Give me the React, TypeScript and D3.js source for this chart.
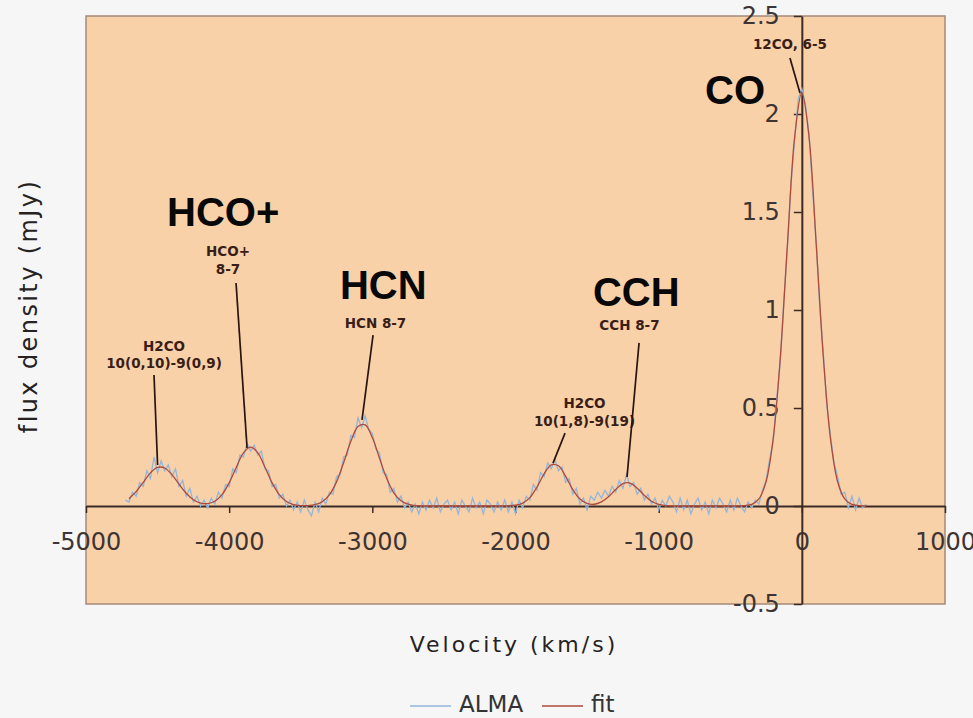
import React, { useEffect, useRef } from 'react';
import * as d3 from 'd3';

const WIDTH = 973;
const HEIGHT = 718;

// tick values of both axes
const VELOCITY_TICKS = [-5000, -4000, -3000, -2000, -1000, 0, 1000];
const FLUX_TICKS = [-0.5, 0, 0.5, 1, 1.5, 2, 2.5];

// ALMA spectrum (km/s, mJy)
const ALMA_VELOCITY = [
  -4725, -4700, -4675, -4650, -4625, -4600, -4575, -4550, -4525, -4500,
  -4475, -4450, -4425, -4400, -4375, -4350, -4325, -4300, -4275, -4250,
  -4225, -4200, -4175, -4150, -4125, -4100, -4075, -4050, -4025, -4000,
  -3975, -3950, -3925, -3900, -3875, -3850, -3825, -3800, -3775, -3750,
  -3725, -3700, -3675, -3650, -3625, -3600, -3575, -3550, -3525, -3500,
  -3475, -3450, -3425, -3400, -3375, -3350, -3325, -3300, -3275, -3250,
  -3225, -3200, -3175, -3150, -3125, -3100, -3075, -3050, -3025, -3000,
  -2975, -2950, -2925, -2900, -2875, -2850, -2825, -2800, -2775, -2750,
  -2725, -2700, -2675, -2650, -2625, -2600, -2575, -2550, -2525, -2500,
  -2475, -2450, -2425, -2400, -2375, -2350, -2325, -2300, -2275, -2250,
  -2225, -2200, -2175, -2150, -2125, -2100, -2075, -2050, -2025, -2000,
  -1975, -1950, -1925, -1900, -1875, -1850, -1825, -1800, -1775, -1750,
  -1725, -1700, -1675, -1650, -1625, -1600, -1575, -1550, -1525, -1500,
  -1475, -1450, -1425, -1400, -1375, -1350, -1325, -1300, -1275, -1250,
  -1225, -1200, -1175, -1150, -1125, -1100, -1075, -1050, -1025, -1000,
  -975, -950, -925, -900, -875, -850, -825, -800, -775, -750,
  -725, -700, -675, -650, -625, -600, -575, -550, -525, -500,
  -475, -450, -425, -400, -375, -350, -325, -300, -275, -250,
  -225, -200, -175, -150, -125, -100, -75, -50, -25, 0,
  25, 50, 75, 100, 125, 150, 175, 200, 225, 250,
  275, 300, 325, 350, 375, 400, 425, 450
];

const ALMA_FLUX = [
  0.03, 0.02, 0.07, 0.05, 0.12, 0.10, 0.18, 0.14, 0.25, 0.17,
  0.23, 0.18, 0.21, 0.15, 0.19, 0.10, 0.13, 0.05, 0.09, 0.02,
  0.05, 0.00, 0.03, -0.01, 0.04, 0.01, 0.07, 0.04, 0.11, 0.10,
  0.19, 0.17, 0.26, 0.25, 0.32, 0.28, 0.31, 0.26, 0.28, 0.19,
  0.18, 0.10, 0.11, 0.04, 0.06, 0.00, 0.03, -0.02, 0.02, -0.03,
  0.03, -0.02, -0.05, 0.02, -0.03, 0.04, 0.01, 0.07, 0.06, 0.15,
  0.16, 0.25, 0.26, 0.36, 0.35, 0.45, 0.40, 0.46, 0.39, 0.37,
  0.29, 0.27, 0.17, 0.16, 0.07, 0.09, 0.02, 0.05, -0.01, 0.02,
  -0.03, 0.01, -0.04, 0.02, -0.02, 0.03, -0.01, 0.04, -0.03, 0.01,
  0.03, -0.02, 0.02, -0.04, 0.03, 0.00, -0.03, 0.04, -0.01, 0.02,
  -0.04, 0.03, 0.01, -0.03, 0.02, -0.02, 0.03, -0.03, 0.02, -0.04,
  0.03, -0.01, 0.05, 0.03, 0.11, 0.08, 0.17, 0.15, 0.22, 0.19,
  0.24, 0.18, 0.20, 0.12, 0.14, 0.06, 0.09, 0.01, 0.04, -0.02,
  0.05, 0.03, 0.07, 0.04, 0.08, 0.05, 0.10, 0.07, 0.13, 0.09,
  0.16, 0.10, 0.12, 0.06, 0.09, 0.03, 0.06, 0.01, 0.04, -0.02,
  0.03, 0.00, 0.05, 0.02, -0.03, 0.04, -0.02, 0.03, -0.04, 0.01,
  0.04, -0.02, 0.02, -0.04, 0.03, -0.01, 0.04, 0.01, -0.03, 0.03,
  -0.02, 0.04, 0.00, -0.03, 0.02, -0.01, 0.03, 0.01, 0.08, 0.13,
  0.24, 0.33, 0.55, 0.74, 1.06, 1.33, 1.65, 1.87, 2.08, 2.13,
  2.05, 1.90, 1.61, 1.35, 1.02, 0.78, 0.51, 0.36, 0.22, 0.15,
  0.06, 0.07, -0.01, 0.05, -0.02, 0.04, -0.01, 0.01
];

// fitted line profile
const FIT_VELOCITY = [
  -4700, -4650, -4600, -4550, -4500, -4450, -4400, -4350, -4300, -4250,
  -4200, -4150, -4100, -4050, -4000, -3950, -3900, -3850, -3800, -3750,
  -3700, -3650, -3600, -3550, -3500, -3450, -3400, -3350, -3300, -3250,
  -3200, -3150, -3100, -3050, -3000, -2950, -2900, -2850, -2800, -2750,
  -2700, -2650, -2600, -2550, -2500, -2450, -2400, -2350, -2300, -2250,
  -2200, -2150, -2100, -2050, -2000, -1950, -1900, -1850, -1800, -1750,
  -1700, -1650, -1600, -1550, -1500, -1450, -1400, -1350, -1300, -1250,
  -1200, -1150, -1100, -1050, -1000, -950, -900, -850, -800, -750,
  -700, -650, -600, -550, -500, -450, -400, -350, -300, -250,
  -200, -150, -100, -50, 0, 50, 100, 150, 200, 250,
  300, 350, 400, 450
];

const FIT_FLUX = [
  0.037, 0.073, 0.121, 0.169, 0.197, 0.194, 0.160, 0.111, 0.065, 0.032,
  0.015, 0.012, 0.024, 0.058, 0.118, 0.198, 0.271, 0.300, 0.271, 0.198,
  0.118, 0.058, 0.023, 0.007, 0.002, 0.002, 0.007, 0.022, 0.057, 0.123,
  0.222, 0.330, 0.406, 0.414, 0.349, 0.244, 0.141, 0.067, 0.027, 0.009,
  0.002, 0, 0, 0, 0, 0, 0, 0, 0, 0,
  0, 0, 0, 0.001, 0.004, 0.015, 0.043, 0.097, 0.164, 0.210,
  0.205, 0.151, 0.084, 0.036, 0.013, 0.009, 0.021, 0.047, 0.084, 0.114,
  0.117, 0.091, 0.054, 0.024, 0.008, 0.002, 0, 0, 0, 0,
  0, 0, 0, 0, 0, 0, 0.002, 0.008, 0.036, 0.124,
  0.344, 0.761, 1.341, 1.884, 2.110, 1.884, 1.341, 0.761, 0.344, 0.124,
  0.036, 0.008, 0.002, 0
];

// line labels: text lines, where the text sits and where the leader points (km/s, mJy)
const LINE_LABELS = [
  {lines: ['H2CO', '10(0,10)-9(0,9)'], v: -4455, f: [0.791, 0.704], from: [-4525, 0.668], to: [-4500, 0.209]},
  {lines: ['HCO+', '8-7'], v: -4008, f: [1.276, 1.184], from: [-3952, 1.138], to: [-3875, 0.296]},
  {lines: ['HCN 8-7'], v: -2978, f: [0.908], from: [-2995, 0.872], to: [-3072, 0.439]},
  {lines: ['H2CO', '10(1,8)-9(19)'], v: -1518, f: [0.5, 0.408], from: [-1654, 0.372], to: [-1738, 0.219]},
  {lines: ['CCH 8-7'], v: -1204, f: [0.898], from: [-1137, 0.832], to: [-1221, 0.148]},
  {lines: ['12CO, 6-5'], v: -83, f: [2.332], from: [-83, 2.286], to: [-13, 2.107]}
];

// big molecule names
const MOLECULES = ['HCO+', 'HCN', 'CCH', 'CO'];
const MOLECULE_V = [-4434, -3226, -1459, -676];
const MOLECULE_F = [1.429, 1.056, 1.02, 2.051];

const SERIES = ['ALMA', 'fit'];
const SERIES_COLORS = ['#93b5d9', '#ad4a3b'];

export default function App() {
  const svgRef = useRef(null);

  useEffect(() => {
    const svg = d3.select(svgRef.current);
    svg.selectAll('*').remove();

    const plot = {left: 86, right: 945, top: 16, bottom: 604};
    const x = d3.scaleLinear().domain([-5000, 1000]).range([plot.left, plot.right]);
    const y = d3.scaleLinear().domain([-0.5, 2.5]).range([plot.bottom, plot.top]);

    svg.append('rect')
      .attr('width', WIDTH).attr('height', HEIGHT)
      .attr('fill', '#f6f6f7');

    svg.append('rect')
      .attr('x', plot.left).attr('y', plot.top)
      .attr('width', plot.right - plot.left)
      .attr('height', plot.bottom - plot.top)
      .attr('fill', '#f9d1a8')
      .attr('stroke', '#a48a7a')
      .attr('stroke-width', 1.5);

    const axisColor = '#3b2a26';
    const labelColor = '#3e3434';

    const xAxis = svg.append('g')
      .attr('transform', `translate(0,${y(0)})`)
      .call(d3.axisBottom(x).tickValues(VELOCITY_TICKS).tickSize(7)
        .tickSizeOuter(0).tickPadding(20).tickFormat(d => String(d)));

    const yAxis = svg.append('g')
      .attr('transform', `translate(${x(0)},0)`)
      .call(d3.axisLeft(y).tickValues(FLUX_TICKS).tickSize(8)
        .tickSizeOuter(0).tickPadding(14).tickFormat(d => String(d)));

    [xAxis, yAxis].forEach(axis => {
      axis.attr('font-family', '"DejaVu Sans", Verdana, sans-serif').attr('font-size', 24);
      axis.select('.domain').attr('stroke', axisColor).attr('stroke-width', 2);
      axis.selectAll('.tick line').attr('stroke', axisColor).attr('stroke-width', 1.5);
      axis.selectAll('.tick text').attr('fill', labelColor);
    });

    const almaLine = d3.line()
      .x((d, i) => x(ALMA_VELOCITY[i]))
      .y(d => y(d));

    const fitLine = d3.line()
      .x((d, i) => x(FIT_VELOCITY[i]))
      .y(d => y(d))
      .curve(d3.curveCatmullRom);

    svg.append('path')
      .attr('d', almaLine(ALMA_FLUX))
      .attr('fill', 'none')
      .attr('stroke', SERIES_COLORS[0])
      .attr('stroke-width', 1.3);

    svg.append('path')
      .attr('d', fitLine(FIT_FLUX))
      .attr('fill', 'none')
      .attr('stroke', SERIES_COLORS[1])
      .attr('stroke-width', 1.3);

    // leader lines and small line labels
    const notes = svg.append('g');
    LINE_LABELS.forEach(label => {
      notes.append('line')
        .attr('x1', x(label.from[0])).attr('y1', y(label.from[1]))
        .attr('x2', x(label.to[0])).attr('y2', y(label.to[1]))
        .attr('stroke', '#2a1410')
        .attr('stroke-width', 1.7);
      label.lines.forEach((text, i) => {
        notes.append('text')
          .attr('x', x(label.v)).attr('y', y(label.f[i]))
          .attr('text-anchor', 'middle')
          .attr('font-family', '"DejaVu Sans", Verdana, sans-serif')
          .attr('font-weight', 'bold')
          .attr('font-size', 13.5)
          .attr('fill', '#3a1d17')
          .text(text);
      });
    });

    svg.append('g').selectAll('text')
      .data(MOLECULES)
      .join('text')
      .attr('x', (d, i) => x(MOLECULE_V[i]))
      .attr('y', (d, i) => y(MOLECULE_F[i]))
      .attr('font-family', '"Liberation Sans", Arial, sans-serif')
      .attr('font-weight', 'bold')
      .attr('font-size', 40)
      .attr('fill', '#080808')
      .text(d => d);

    // axis titles
    svg.append('text')
      .attr('x', 514).attr('y', 652)
      .attr('text-anchor', 'middle')
      .attr('font-family', '"DejaVu Sans", Verdana, sans-serif')
      .attr('font-size', 22)
      .attr('letter-spacing', 3)
      .attr('fill', '#262222')
      .text('Velocity (km/s)');

    svg.append('text')
      .attr('transform', 'translate(37,306) rotate(-90)')
      .attr('text-anchor', 'middle')
      .attr('font-family', '"DejaVu Sans", Verdana, sans-serif')
      .attr('font-size', 24)
      .attr('letter-spacing', 2.4)
      .attr('fill', '#262222')
      .text('flux density (mJy)');

    // legend
    const legendX = [410, 542];
    const legend = svg.append('g');
    SERIES.forEach((name, i) => {
      legend.append('line')
        .attr('x1', legendX[i]).attr('x2', legendX[i] + 41)
        .attr('y1', 706).attr('y2', 706)
        .attr('stroke', SERIES_COLORS[i])
        .attr('stroke-width', 1.5);
      legend.append('text')
        .attr('x', legendX[i] + 49).attr('y', 712)
        .attr('font-family', '"DejaVu Sans", Verdana, sans-serif')
        .attr('font-size', 23)
        .attr('fill', '#333')
        .text(name);
    });
  }, []);

  return (
    <svg ref={svgRef} width={WIDTH} height={HEIGHT}
      style={{position: 'absolute', left: 0, top: 0, display: 'block'}} />
  );
}
